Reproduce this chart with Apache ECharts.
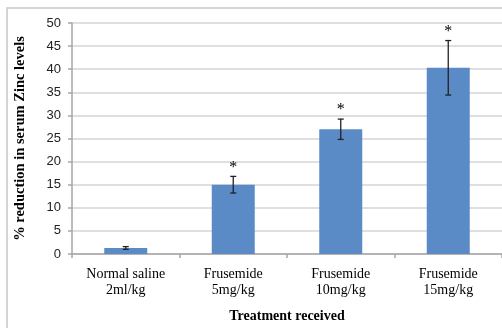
<!DOCTYPE html>
<html><head><meta charset="utf-8">
<script src="https://cdn.jsdelivr.net/npm/echarts@6/dist/echarts.min.js"></script>
<style>html,body{margin:0;padding:0;background:#fff}#c{width:502px;height:328px}</style>
</head><body><div id="c"></div>
<script>
const categories = ['Normal saline\n2ml/kg', 'Frusemide\n5mg/kg', 'Frusemide\n10mg/kg', 'Frusemide\n15mg/kg'];
const values = [1.3, 15.0, 27.0, 40.3];
const errors = [0.3, 1.8, 2.2, 5.9];
const marks = ['', '*', '*', '*'];
const yTicks = [0, 5, 10, 15, 20, 25, 30, 35, 40, 45, 50];

const chart = echarts.init(document.getElementById('c'), null, {renderer: 'canvas'});
const errData = values.map((v, i) => [i, v - errors[i], v + errors[i], marks[i]]);
chart.setOption({
  animation: false,
  graphic: [{type: 'rect', shape: {x: 7, y: 8, width: 520, height: 340}, style: {fill: 'none', stroke: '#c8c8c8', lineWidth: 1.5}, silent: true}],
  grid: {left: 72, top: 23, width: 432, height: 235, containLabel: false},
  xAxis: {
    type: 'category', data: categories,
    name: 'Treatment received', nameLocation: 'middle', nameGap: 55,
    nameTextStyle: {fontFamily: 'Liberation Serif', fontWeight: 'bold', fontSize: 14, color: '#000'},
    axisLine: {lineStyle: {color: '#a6a6a6', width: 1.5}},
    axisTick: {show: true, length: 4, lineStyle: {color: '#a6a6a6', width: 1.5}},
    axisLabel: {fontFamily: 'Liberation Serif', fontSize: 14, color: '#000', lineHeight: 16, margin: 12}
  },
  yAxis: {
    type: 'value', min: 0, max: 50, interval: 5,
    name: '% reduction in serum Zinc levels', nameLocation: 'middle', nameGap: 44,
    nameTextStyle: {fontFamily: 'Liberation Serif', fontWeight: 'bold', fontSize: 14.5, color: '#000'},
    axisLine: {show: true, lineStyle: {color: '#a6a6a6', width: 1.5}},
    axisTick: {show: true, length: 4, lineStyle: {color: '#a6a6a6', width: 1.5}},
    axisLabel: {fontFamily: 'Liberation Sans', fontSize: 13, color: '#222', margin: 11,
      formatter: v => yTicks.includes(v) ? String(v) : ''},
    splitLine: {lineStyle: {color: '#d4d4d4', width: 1.5}}
  },
  series: [
    {type: 'bar', data: values, barWidth: 43, itemStyle: {color: '#5b8bc7'}},
    {type: 'custom', data: errData, z: 10,
      renderItem: (params, api) => {
        const x = api.value(0);
        const lo = api.coord([x, api.value(1)]);
        const hi = api.coord([x, api.value(2)]);
        const hw = 3;
        const st = {stroke: '#222', lineWidth: 1.3};
        const children = [
          {type: 'line', shape: {x1: lo[0], y1: lo[1], x2: hi[0], y2: hi[1]}, style: st},
          {type: 'line', shape: {x1: lo[0] - hw, y1: lo[1], x2: lo[0] + hw, y2: lo[1]}, style: st},
          {type: 'line', shape: {x1: hi[0] - hw, y1: hi[1], x2: hi[0] + hw, y2: hi[1]}, style: st}
        ];
        const m = api.value(3);
        if (m && m !== '') {
          children.push({type: 'text', style: {text: '*', x: hi[0], y: hi[1] - 1, fill: '#000',
            font: '16px Liberation Serif', align: 'center', verticalAlign: 'bottom'}});
        }
        return {type: 'group', children};
      }}
  ]
});
</script></body></html>
